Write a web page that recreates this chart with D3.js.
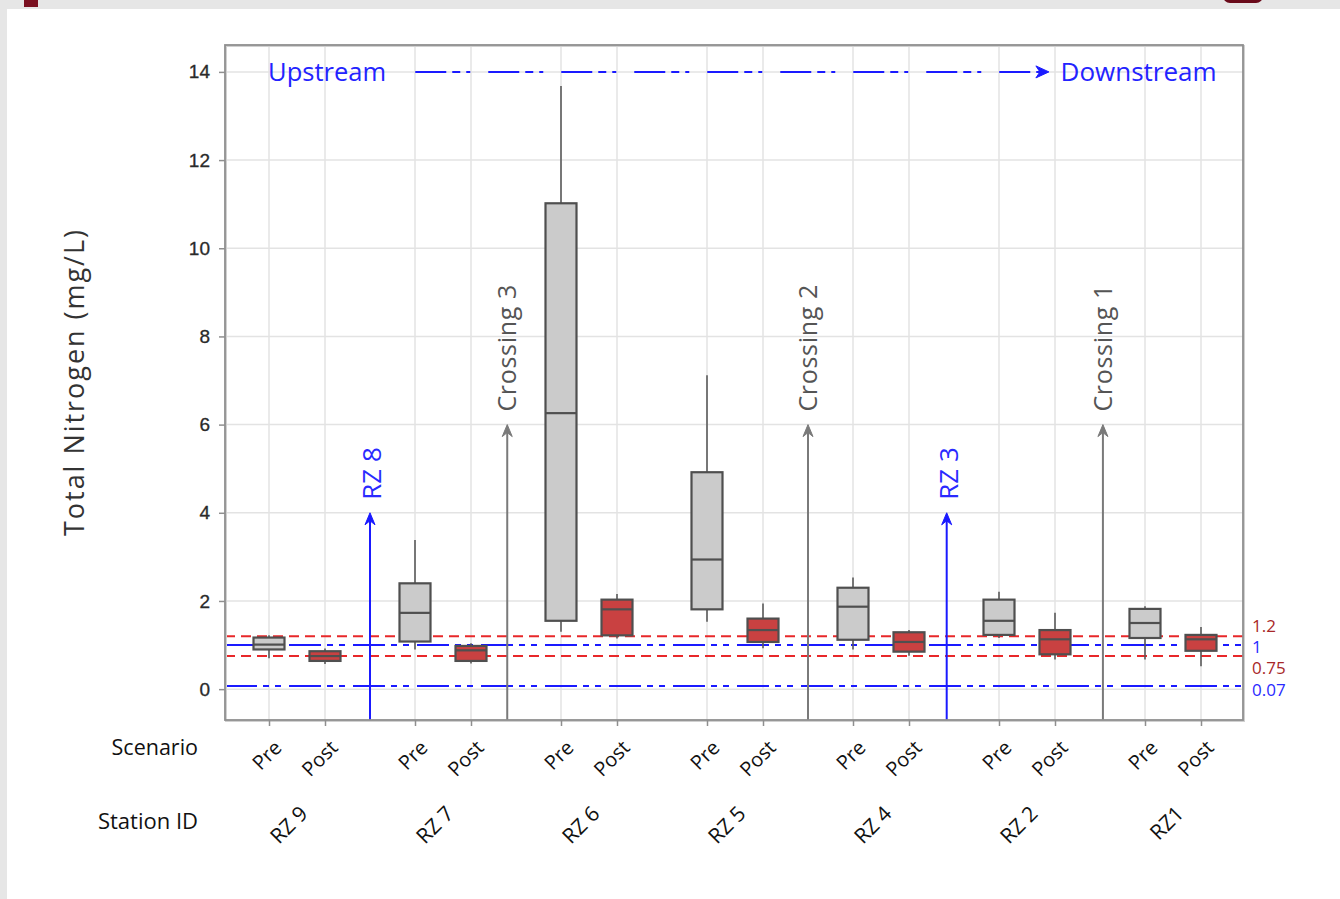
<!DOCTYPE html>
<html>
<head>
<meta charset="utf-8">
<script src="https://cdn.jsdelivr.net/npm/d3@7"></script>
<style>
  html, body { margin: 0; padding: 0; background: #e6e6e6; }
  svg { display: block; }
</style>
</head>
<body>
<svg id="chart" width="1340" height="899"></svg>
<script>
// ---------------------------------- Data ----------------------------------
const stations = ["RZ 9", "RZ 7", "RZ 6", "RZ 5", "RZ 4", "RZ 2", "RZ1"];
const scenarios = ["Pre", "Post"];

// [whisker low, Q1, median, Q3, whisker high] per station
const preStats = [
    [0.70, 0.90, 1.01, 1.17, 1.22],
    [0.90, 1.08, 1.73, 2.40, 3.38],
    [1.30, 1.55, 6.26, 11.02, 13.68],
    [1.53, 1.81, 2.94, 4.92, 7.12],
    [0.90, 1.12, 1.87, 2.30, 2.53],
    [1.16, 1.23, 1.55, 2.03, 2.21],
    [0.67, 1.16, 1.50, 1.82, 1.88]
];
const postStats = [
    [0.57, 0.64, 0.75, 0.86, 0.92],
    [0.58, 0.64, 0.88, 0.98, 1.04],
    [1.15, 1.22, 1.81, 2.03, 2.16],
    [0.93, 1.07, 1.34, 1.60, 1.94],
    [0.76, 0.85, 1.07, 1.29, 1.34],
    [0.67, 0.79, 1.13, 1.34, 1.73],
    [0.52, 0.87, 1.13, 1.23, 1.41]
];

const yTicks = [0, 2, 4, 6, 8, 10, 12, 14];

// reference lines
const refValues = [1.2, 1, 0.75, 0.07];
const refLabels = ["1.2", "1", "0.75", "0.07"];
const refKinds = ["limit", "target", "limit", "target"];

// markers between stations (position in station-index units)
const markerNames = ["RZ 8", "Crossing 3", "Crossing 2", "RZ 3", "Crossing 1"];
const markerPos = [0.5, 1.44, 3.5, 4.45, 5.52];
const markerTip = [4, 6, 6, 4, 6];
const markerKinds = ["station", "crossing", "crossing", "station", "crossing"];

// ---------------------------------- Layout ----------------------------------
const svg = d3.select("#chart");
const plot = { left: 225, right: 1243, top: 45, bottom: 720 };
const font = "Open Sans, sans-serif";

// window chrome
svg.append("rect").attr("x", 7).attr("y", 9).attr("width", 1333).attr("height", 890).attr("fill", "#fff");
svg.append("rect").attr("x", 24).attr("y", 0).attr("width", 14).attr("height", 7).attr("fill", "#7a1020");
svg.append("rect").attr("x", 1223).attr("y", -12).attr("width", 40).attr("height", 15).attr("rx", 7).attr("fill", "#6a0a1a");

const xs = d3.scaleBand().domain(stations).range([224, 1246]);
const xScen = d3.scalePoint().domain(scenarios).range([45, 101]);
const xi = d3.scaleLinear().domain([0, stations.length - 1]).range([xs(stations[0]) + xs.bandwidth() / 2, xs(stations[stations.length - 1]) + xs.bandwidth() / 2]);
const y = d3.scaleLinear().domain([-0.7, 14.61]).range([plot.bottom, plot.top]);

const xPos = (st, sc) => xs(st) + xScen(sc);

// ---------------------------------- Grid ----------------------------------
const grid = svg.append("g");
yTicks.forEach(t => {
    grid.append("line").attr("x1", plot.left).attr("x2", plot.right)
        .attr("y1", y(t)).attr("y2", y(t))
        .attr("stroke", "#e3e3e3").attr("stroke-width", 1.5);
});
stations.forEach(st => scenarios.forEach(sc => {
    grid.append("line").attr("x1", xPos(st, sc)).attr("x2", xPos(st, sc))
        .attr("y1", plot.top).attr("y2", plot.bottom)
        .attr("stroke", "#e3e3e3").attr("stroke-width", 1.5);
}));

// ---------------------------------- Reference lines ----------------------------------
const refG = svg.append("g");
refValues.forEach((v, i) => {
    const limit = refKinds[i] === "limit";
    refG.append("line").attr("x1", plot.left).attr("x2", plot.right)
        .attr("y1", y(v)).attr("y2", y(v))
        .attr("stroke", limit ? "#e8282a" : "#1a1aff")
        .attr("stroke-width", 2)
        .attr("stroke-dasharray", limit ? "10,6" : "32,6,6,6,6,8");
    // labels to the right of the frame
    const dy = { "1.2": -10, "1": 2, "0.75": 12, "0.07": 4 }[refLabels[i]];
    refG.append("text").attr("x", plot.right + 9).attr("y", y(v) + dy + 6)
        .attr("font-family", font).attr("font-size", 17)
        .attr("fill", limit ? "#a82828" : "#2a2aff")
        .text(refLabels[i]);
});

// ---------------------------------- Boxes ----------------------------------
const boxW = 31;
const boxes = svg.append("g");
function drawBox(st, sc, s) {
    const cx = xPos(st, sc);
    const fill = sc === "Pre" ? "#cbcbcb" : "#c94141";
    boxes.append("line").attr("x1", cx).attr("x2", cx).attr("y1", y(s[0])).attr("y2", y(s[1]))
        .attr("stroke", "#5a5a5a").attr("stroke-width", 1.6);
    boxes.append("line").attr("x1", cx).attr("x2", cx).attr("y1", y(s[3])).attr("y2", y(s[4]))
        .attr("stroke", "#5a5a5a").attr("stroke-width", 1.6);
    boxes.append("rect").attr("x", cx - boxW / 2).attr("y", y(s[3]))
        .attr("width", boxW).attr("height", y(s[1]) - y(s[3]))
        .attr("fill", fill).attr("stroke", "#4f4f4f").attr("stroke-width", 2.2);
    boxes.append("line").attr("x1", cx - boxW / 2).attr("x2", cx + boxW / 2)
        .attr("y1", y(s[2])).attr("y2", y(s[2]))
        .attr("stroke", "#4f4f4f").attr("stroke-width", 2.2);
}
stations.forEach((st, i) => {
    drawBox(st, "Pre", preStats[i]);
    drawBox(st, "Post", postStats[i]);
});

// ---------------------------------- Markers ----------------------------------
const mk = svg.append("g");
markerNames.forEach((name, i) => {
    const mx = xi(markerPos[i]);
    const station = markerKinds[i] === "station";
    const col = station ? "#1a1aff" : "#7a7a7a";
    const tip = y(markerTip[i]);
    mk.append("line").attr("x1", mx).attr("x2", mx).attr("y1", plot.bottom).attr("y2", tip + 4)
        .attr("stroke", col).attr("stroke-width", 2);
    mk.append("path")
        .attr("d", `M${mx},${tip} L${mx - 5},${tip + 12} L${mx},${tip + 8} L${mx + 5},${tip + 12} Z`)
        .attr("fill", col).attr("stroke", col).attr("stroke-width", 1);
    const t = mk.append("text")
        .attr("transform", `translate(${mx + (station ? 11 : 9)},${tip - 13}) rotate(-90)`)
        .attr("font-family", font).attr("font-size", station ? 26 : 25)
        .attr("fill", station ? "#2a2aff" : "#555")
        .text(name);
    if (!station) t.attr("textLength", 127).attr("lengthAdjust", "spacing");
});

// Upstream -> Downstream
const flowY = y(14);
svg.append("text").attr("x", xi(0.61)).attr("y", flowY + 9).attr("text-anchor", "end")
    .attr("font-family", font).attr("font-size", 25.5).attr("fill", "#2323ff")
    .text("Upstream");
svg.append("line").attr("x1", xi(0.81)).attr("x2", xi(5.12)).attr("y1", flowY).attr("y2", flowY)
    .attr("stroke", "#1a1aff").attr("stroke-width", 2).attr("stroke-dasharray", "31,6,8,6,4,18");
const ax = xi(5.15);
svg.append("path")
    .attr("d", `M${ax},${flowY} L${ax - 13},${flowY - 6} L${ax - 9},${flowY} L${ax - 13},${flowY + 6} Z`)
    .attr("fill", "#1a1aff").attr("stroke", "#1a1aff");
svg.append("text").attr("x", xi(5.23)).attr("y", flowY + 9)
    .attr("font-family", font).attr("font-size", 26).attr("fill", "#2323ff")
    .text("Downstream");

// ---------------------------------- Frame + axes ----------------------------------
svg.append("rect").attr("x", plot.left + 1).attr("y", plot.top + 1)
    .attr("width", plot.right - plot.left).attr("height", plot.bottom - plot.top)
    .attr("fill", "none").attr("stroke", "#d0d0d0").attr("stroke-width", 2);
svg.append("rect").attr("x", plot.left).attr("y", plot.top)
    .attr("width", plot.right - plot.left).attr("height", plot.bottom - plot.top)
    .attr("fill", "none").attr("stroke", "#8f8f8f").attr("stroke-width", 1.8);

const yAxis = svg.append("g").attr("transform", `translate(${plot.left},0)`)
    .call(d3.axisLeft(y).tickValues(yTicks).tickSize(6).tickPadding(9));
yAxis.select(".domain").remove();
yAxis.selectAll(".tick line").attr("stroke", "#8f8f8f").attr("stroke-width", 1.5);
yAxis.selectAll(".tick text").attr("font-family", "Liberation Sans, Arial, sans-serif")
    .attr("font-size", 19).attr("fill", "#2a2a2a").attr("stroke", "#2a2a2a").attr("stroke-width", 0.3);

stations.forEach(st => {
    const g = svg.append("g").attr("transform", `translate(${xs(st)},${plot.bottom})`)
        .call(d3.axisBottom(xScen).tickSize(6).tickFormat(""));
    g.select(".domain").remove();
    g.selectAll(".tick line").attr("stroke", "#8f8f8f").attr("stroke-width", 1.5);
    scenarios.forEach(sc => {
        svg.append("text")
            .attr("transform", `translate(${xPos(st, sc) + 14},${749}) rotate(-45)`)
            .attr("text-anchor", "end")
            .attr("font-family", font).attr("font-size", 20).attr("fill", "#111")
            .text(sc);
    });
    svg.append("text")
        .attr("transform", `translate(${xs(st) + xs.bandwidth() / 2 + 12},${815}) rotate(-45)`)
        .attr("text-anchor", "end")
        .attr("font-family", font).attr("font-size", 21).attr("fill", "#111")
        .text(st);
});

svg.append("text").attr("x", 198).attr("y", 755).attr("text-anchor", "end")
    .attr("font-family", font).attr("font-size", 21.5).attr("fill", "#111")
    .text("Scenario");
svg.append("text").attr("x", 198).attr("y", 829).attr("text-anchor", "end")
    .attr("font-family", font).attr("font-size", 22).attr("fill", "#111")
    .text("Station ID");

svg.append("text")
    .attr("transform", `translate(84,383) rotate(-90)`)
    .attr("text-anchor", "middle")
    .attr("font-family", font).attr("font-size", 27).attr("fill", "#333")
    .attr("textLength", 306).attr("lengthAdjust", "spacing")
    .text("Total Nitrogen (mg/L)");
</script>
</body>
</html>
